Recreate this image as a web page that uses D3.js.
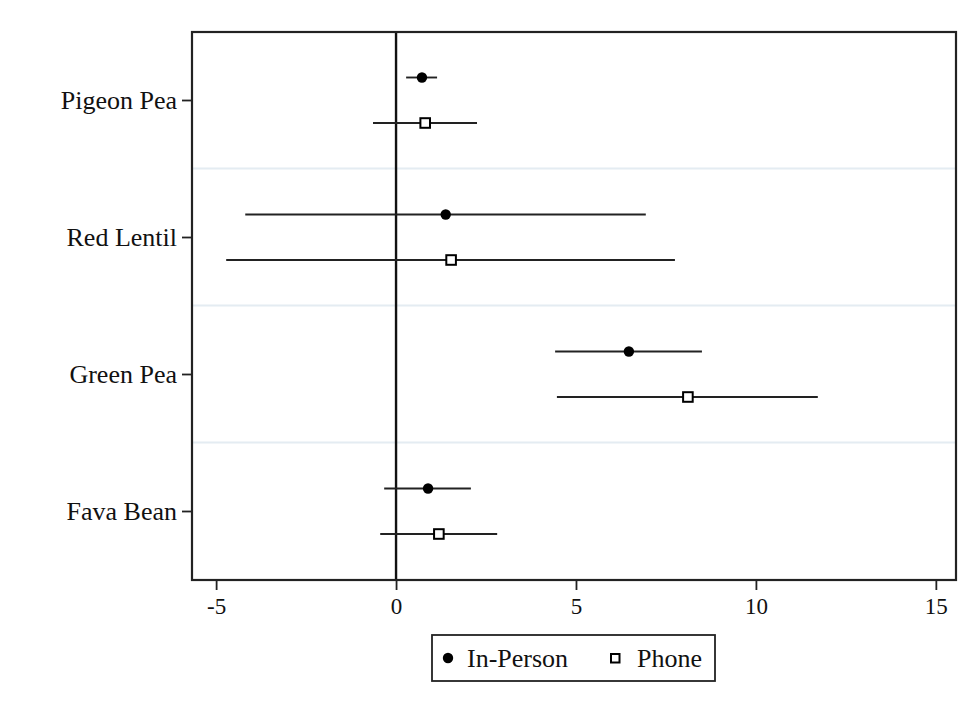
<!DOCTYPE html>
<html>
<head>
<meta charset="utf-8">
<script src="https://cdn.jsdelivr.net/npm/d3@7"></script>
<style>
  body { margin: 0; background: #fff; }
  svg { display: block; font-family: "Liberation Serif", "DejaVu Serif", serif; }
</style>
</head>
<body>
<script>
// crops and estimates
var crops = ["Pigeon Pea", "Red Lentil", "Green Pea", "Fava Bean"];
var inPersonEst = [0.72, 1.38, 6.47, 0.89];
var inPersonLo = [0.28, -4.19, 4.42, -0.33];
var inPersonHi = [1.14, 6.94, 8.50, 2.08];
var phoneEst = [0.81, 1.53, 8.11, 1.19];
var phoneLo = [-0.64, -4.72, 4.47, -0.44];
var phoneHi = [2.25, 7.75, 11.72, 2.81];
var xTicks = [-5, 0, 5, 10, 15];
var seriesNames = ["In-Person", "Phone"];

var width = 968, height = 708;
var mLeft = 192, mRight = 956, mTop = 32, mBottom = 580;

var svg = d3.select("body").append("svg")
  .attr("width", width)
  .attr("height", height);

var x = d3.scaleLinear()
  .domain([-5.67, 15.56])
  .range([mLeft, mRight]);

var y = d3.scaleBand()
  .domain(crops)
  .range([mTop, mBottom]);

var offset = { "In-Person": -23, "Phone": 22.5 };

var rows = [];
crops.forEach(function (c, i) {
  rows.push({ crop: c, series: "In-Person", est: inPersonEst[i], lo: inPersonLo[i], hi: inPersonHi[i] });
  rows.push({ crop: c, series: "Phone", est: phoneEst[i], lo: phoneLo[i], hi: phoneHi[i] });
});

function rowY(d) { return y(d.crop) + y.bandwidth() / 2 + offset[d.series]; }

// separators between crops
svg.append("g").selectAll("line")
  .data(crops.slice(1))
  .enter().append("line")
  .attr("x1", mLeft).attr("x2", mRight)
  .attr("y1", function (d) { return y(d) - 0.5; })
  .attr("y2", function (d) { return y(d) - 0.5; })
  .attr("stroke", "#e4ecf2")
  .attr("stroke-width", 2);

// zero line
svg.append("line")
  .attr("x1", x(0)).attr("x2", x(0))
  .attr("y1", mTop).attr("y2", mBottom)
  .attr("stroke", "#111")
  .attr("stroke-width", 2.4);

// confidence intervals
svg.append("g").selectAll("line")
  .data(rows)
  .enter().append("line")
  .attr("x1", function (d) { return x(d.lo); })
  .attr("x2", function (d) { return x(d.hi); })
  .attr("y1", rowY)
  .attr("y2", rowY)
  .attr("stroke", "#222")
  .attr("stroke-width", 1.9);

// point estimates
var pts = svg.append("g");
pts.selectAll("circle")
  .data(rows.filter(function (d) { return d.series == "In-Person"; }))
  .enter().append("circle")
  .attr("cx", function (d) { return x(d.est); })
  .attr("cy", rowY)
  .attr("r", 5.2)
  .attr("fill", "#000");

pts.selectAll("rect")
  .data(rows.filter(function (d) { return d.series == "Phone"; }))
  .enter().append("rect")
  .attr("x", function (d) { return x(d.est) - 4.8; })
  .attr("y", function (d) { return rowY(d) - 4.8; })
  .attr("width", 9.6).attr("height", 9.6)
  .attr("fill", "#fff")
  .attr("stroke", "#000")
  .attr("stroke-width", 2);

// frame
svg.append("rect")
  .attr("x", mLeft).attr("y", mTop)
  .attr("width", mRight - mLeft).attr("height", mBottom - mTop)
  .attr("fill", "none")
  .attr("stroke", "#222")
  .attr("stroke-width", 2.2);

// axes
var xAxis = svg.append("g")
  .attr("transform", "translate(0," + mBottom + ")")
  .call(d3.axisBottom(x).tickValues(xTicks).tickSize(10).tickPadding(8)
    .tickFormat(function (d) { return String(d); }));
xAxis.select(".domain").remove();
xAxis.selectAll("line").attr("stroke", "#222").attr("stroke-width", 1.8);
xAxis.selectAll("text").attr("font-size", 23).attr("fill", "#111")
  .attr("font-family", "Liberation Serif, serif");

var yAxis = svg.append("g")
  .attr("transform", "translate(" + mLeft + ",0)")
  .call(d3.axisLeft(y).tickSize(10).tickPadding(5));
yAxis.select(".domain").remove();
yAxis.selectAll("line").attr("stroke", "#222").attr("stroke-width", 1.8);
yAxis.selectAll("text").attr("font-size", 26).attr("fill", "#111")
  .attr("font-family", "Liberation Serif, serif");

// legend
var lg = svg.append("g");
lg.append("rect")
  .attr("x", 432).attr("y", 635)
  .attr("width", 283).attr("height", 46)
  .attr("fill", "#fff")
  .attr("stroke", "#222")
  .attr("stroke-width", 1.8);
lg.append("circle").attr("cx", 448).attr("cy", 658).attr("r", 5.2).attr("fill", "#000");
lg.append("text").attr("x", 467).attr("y", 667).attr("font-size", 26).attr("fill", "#111")
  .text(seriesNames[0]);
lg.append("rect").attr("x", 611).attr("y", 654).attr("width", 8.5).attr("height", 8.5)
  .attr("fill", "#fff").attr("stroke", "#000").attr("stroke-width", 2);
lg.append("text").attr("x", 637).attr("y", 667).attr("font-size", 26).attr("fill", "#111")
  .text(seriesNames[1]);
</script>
</body>
</html>
